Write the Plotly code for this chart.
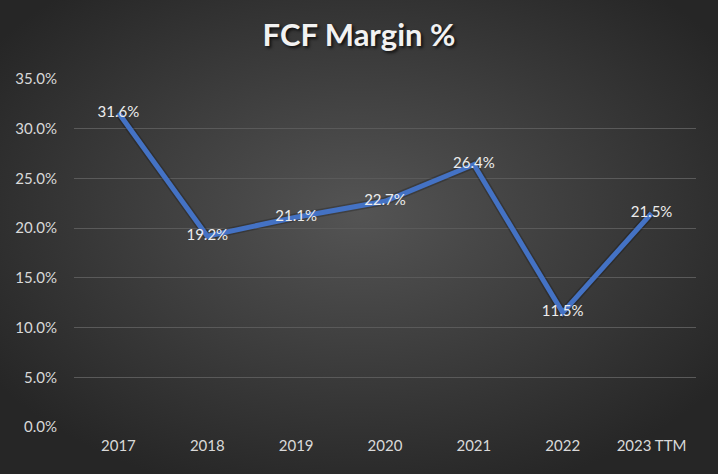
import plotly.graph_objects as go

categories = ["2017", "2018", "2019", "2020", "2021", "2022", "2023 TTM"]
fcf_margin = [31.6, 19.2, 21.1, 22.7, 26.4, 11.5, 21.5]
y_ticks = [0, 5, 10, 15, 20, 25, 30, 35]
y_tick_labels = [f"{v:.1f}%" for v in y_ticks]
title_text = "FCF Margin %"

W, H = 718, 474
ML, MR, MT, MB = 74, 22, 79, 47
PW, PH = W - ML - MR, H - MT - MB

svg_bg = (
    "data:image/svg+xml;utf8,"
    "<svg xmlns='http://www.w3.org/2000/svg' width='718' height='474' viewBox='0 0 718 474' preserveAspectRatio='none'>"
    "<defs><radialGradient id='g' cx='50%' cy='45%' r='62%'>"
    "<stop offset='0%' stop-color='%23545454'/>"
    "<stop offset='100%' stop-color='%23262626'/>"
    "</radialGradient></defs>"
    "<rect width='718' height='474' fill='url(%23g)'/></svg>"
)

FONT = "Lato, Open Sans, sans-serif"

fig = go.Figure()
fig.add_trace(go.Scatter(
    x=categories, y=fcf_margin, mode="lines",
    line=dict(color="rgba(0,0,0,0.22)", width=8),
    hoverinfo="skip", showlegend=False,
))
fig.add_trace(go.Scatter(
    x=categories, y=fcf_margin, mode="lines+text",
    line=dict(color="#4472C4", width=5),
    text=[f"{v:.1f}%" for v in fcf_margin],
    textposition="middle center",
    textfont=dict(family=FONT, size=15, color="#EDEDED"),
    showlegend=False,
))

fig.update_layout(
    width=W, height=H,
    margin=dict(l=ML, r=MR, t=MT, b=MB),
    paper_bgcolor="#3a3a3a",
    plot_bgcolor="rgba(0,0,0,0)",
    images=[dict(source=svg_bg, xref="paper", yref="paper",
                 x=-ML / PW, y=1 + MT / PH,
                 sizex=W / PW, sizey=H / PH, xanchor="left", yanchor="top",
                 sizing="stretch", layer="below")],
    title=dict(text=f"<b>{title_text}</b>", x=0.5, xanchor="center",
               y=1 - 35 / H, yanchor="middle",
               font=dict(family=FONT, size=31, color="#F2F2F2",
                         shadow="2px 2px 3px rgba(0,0,0,0.7)")),
    xaxis=dict(
        showgrid=False, zeroline=False, showline=False,
        tickfont=dict(family=FONT, size=15, color="#D9D9D9"),
        ticks="", ticklabelstandoff=8, range=[-0.5, 6.5],
    ),
    yaxis=dict(
        range=[0, 35], tickvals=y_ticks, ticktext=y_tick_labels,
        showgrid=True, gridcolor="#5a5a5a", gridwidth=1,
        zeroline=False, showline=False,
        tickfont=dict(family=FONT, size=15, color="#D9D9D9"),
        ticks="", ticklabelstandoff=16,
    ),
)

fig.write_html("out.html", config={"displayModeBar": False},
               post_script="document.body.style.margin='0';")
